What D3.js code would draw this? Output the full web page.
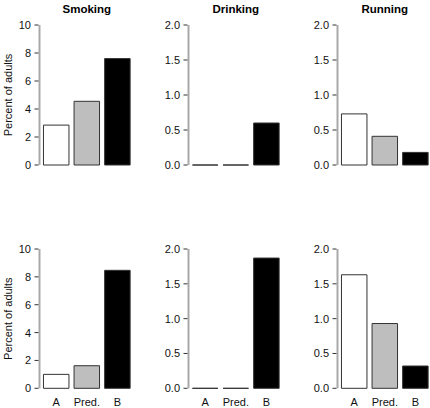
<!DOCTYPE html>
<html>
<head>
<meta charset="utf-8">
<script src="https://cdn.jsdelivr.net/npm/d3@7"></script>
<style>
  html, body { margin: 0; padding: 0; background: #fff; }
  svg { display: block; font-family: "Liberation Sans", Arial, Helvetica, sans-serif; }
</style>
</head>
<body>
<svg id="chart" width="430" height="408"></svg>
<script>
// ---- data ----
const panelTitles = ["Smoking", "Drinking", "Running"];
const groups = ["A", "Pred.", "B"];
const smokingTop = [2.85, 4.55, 7.6];
const drinkingTop = [0, 0, 0.6];
const runningTop = [0.73, 0.41, 0.18];
const smokingBottom = [1.0, 1.62, 8.47];
const drinkingBottom = [0, 0, 1.87];
const runningBottom = [1.63, 0.93, 0.32];
const yMaxes = [10, 2, 2];
const smokingTicks = [0, 2, 4, 6, 8, 10];
const rateTicks = [0, 0.5, 1.0, 1.5, 2.0];
const yLabel = "Percent of adults";
const barFills = ["#ffffff", "#bebebe", "#000000"];

// ---- layout ----
const svg = d3.select("#chart");
const colLefts = [40, 189, 338];
const plotW = 93.6;
const rows = [
  { top: 25, bottom: 165, values: [smokingTop, drinkingTop, runningTop], title: true, xlabels: false },
  { top: 249, bottom: 388.3, values: [smokingBottom, drinkingBottom, runningBottom], title: false, xlabels: true }
];
const tickSets = [smokingTicks, rateTicks, rateTicks];
const tickFormats = [d3.format("d"), d3.format(".1f"), d3.format(".1f")];

rows.forEach((row, ri) => {
  panelTitles.forEach((title, ci) => {
    const left = colLefts[ci];
    const x = d3.scaleLinear().domain([0.064, 3.736]).range([left, left + plotW]);
    const y = d3.scaleLinear().domain([0, yMaxes[ci]]).range([row.bottom, row.top]);
    const g = svg.append("g");

    // axis
    const axisX = left - 0.5;
    g.append("line")
      .attr("x1", axisX).attr("x2", axisX)
      .attr("y1", y(0)).attr("y2", y(yMaxes[ci]))
      .attr("stroke", "#a8a8a8").attr("stroke-width", 2);
    const ticks = tickSets[ci];
    g.selectAll(".tick").data(ticks).join("line")
      .attr("x1", axisX - 5).attr("x2", axisX - 1)
      .attr("y1", d => y(d)).attr("y2", d => y(d))
      .attr("stroke", "#333").attr("stroke-width", 1);
    g.selectAll(".tl").data(ticks).join("text")
      .attr("x", axisX - 8.5)
      .attr("y", d => y(d))
      .attr("dy", "0.36em")
      .attr("text-anchor", "end")
      .attr("font-size", 11)
      .attr("fill", "#111")
      .text(d => tickFormats[ci](d));

    // bars
    const vals = row.values[ci];
    g.selectAll(".bar").data(vals).join("path")
      .attr("d", (v, i) => {
        const x0 = x(0.2 + i * 1.2), x1 = x(1.2 + i * 1.2);
        const y0 = y(0), y1 = y(v);
        return `M${x0},${y0}V${y1}H${x1}V${y0}Z`;
      })
      .attr("fill", (v, i) => barFills[i])
      .attr("stroke", "#333")
      .attr("stroke-width", 1);

    if (row.title) {
      g.append("text")
        .attr("x", left + plotW / 2).attr("y", 12.5)
        .attr("text-anchor", "middle")
        .attr("font-size", 11.5).attr("font-weight", "bold")
        .attr("fill", "#000")
        .text(title);
    }
    if (row.xlabels) {
      g.selectAll(".xl").data(groups).join("text")
        .attr("x", (d, i) => x(0.7 + i * 1.2))
        .attr("y", 406)
        .attr("text-anchor", "middle")
        .attr("font-size", 11)
        .attr("fill", "#111")
        .text(d => d);
    }
    if (ci === 0) {
      g.append("text")
        .attr("transform", `translate(11.5,${(row.top + row.bottom) / 2}) rotate(-90)`)
        .attr("text-anchor", "middle")
        .attr("font-size", 11)
        .attr("fill", "#111")
        .text(yLabel);
    }
  });
});
</script>
</body>
</html>
